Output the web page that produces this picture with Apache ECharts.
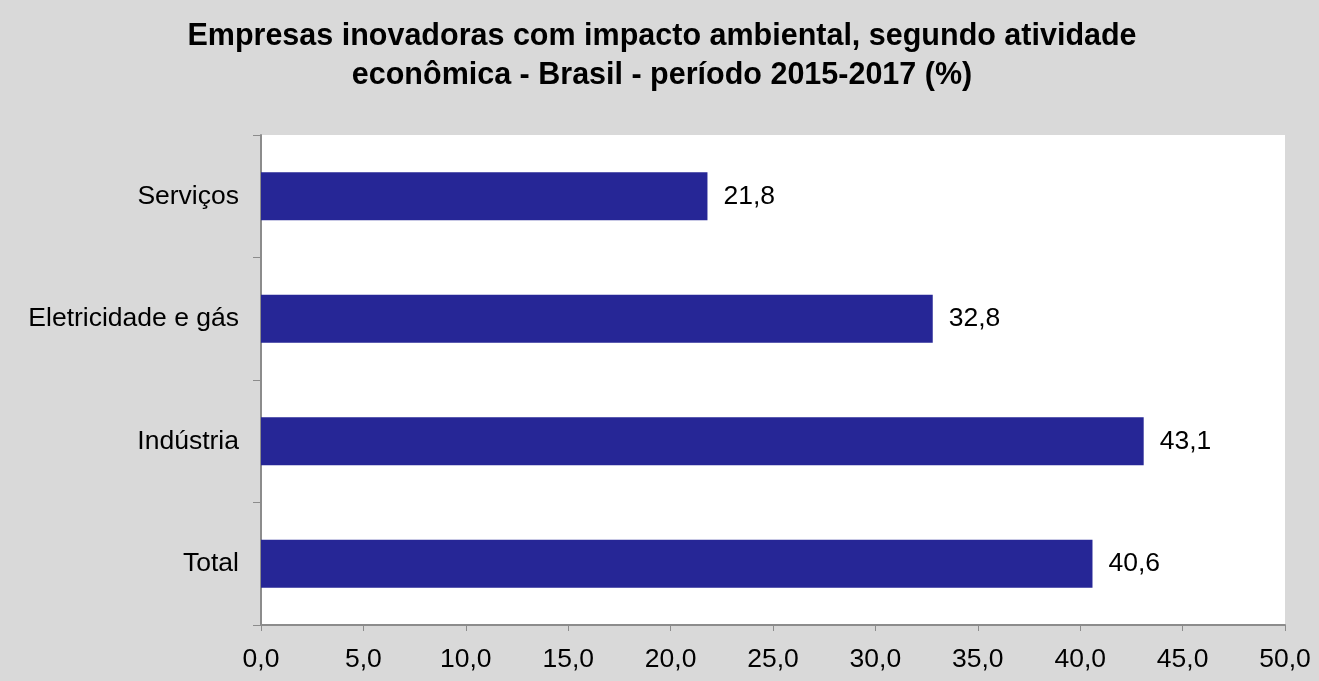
<!DOCTYPE html>
<html><head><meta charset="utf-8">
<script src="https://cdn.jsdelivr.net/npm/echarts@6/dist/echarts.min.js"></script>
<style>html,body{margin:0;padding:0;background:#d9d9d9}#c{width:1319px;height:681px}</style>
</head><body><div id="c"></div>
<script>
const categories = ["Total", "Indústria", "Eletricidade e gás", "Serviços"];
const values = [40.6, 43.1, 32.8, 21.8];
const xTicks = [0, 5, 10, 15, 20, 25, 30, 35, 40, 45, 50];
const titleLines = ["Empresas inovadoras com impacto ambiental, segundo atividade", "econômica - Brasil - período 2015-2017 (%)"];

const FF = 'Liberation Sans, Arial, sans-serif';
const fmt = v => v.toFixed(1).replace('.', ',');
const chart = echarts.init(document.getElementById('c'));
chart.setOption({
  backgroundColor: '#d9d9d9',
  animation: false,
  textStyle: { fontFamily: FF },
  title: {
    text: titleLines.join('\n'),
    left: 657, top: 12, textAlign: 'center',
    textStyle: { fontSize: 30.5, fontWeight: 'bold', color: '#000', lineHeight: 39, fontFamily: FF }
  },
  grid: { left: 261, right: 34, top: 135, bottom: 56, show: true, backgroundColor: '#ffffff', borderWidth: 0 },
  xAxis: {
    type: 'value', min: xTicks[0], max: xTicks[xTicks.length - 1], interval: 5,
    axisLine: { show: true, lineStyle: { color: '#8c8c8c', width: 2 } },
    axisTick: { show: true, length: 6, lineStyle: { color: '#8c8c8c' } },
    splitLine: { show: false },
    axisLabel: { formatter: fmt, fontSize: 26.5, color: '#000', margin: 21, fontFamily: FF }
  },
  yAxis: {
    type: 'category', data: categories,
    axisLine: { show: true, lineStyle: { color: '#8c8c8c', width: 2 } },
    axisTick: { show: true, length: 8, lineStyle: { color: '#8c8c8c' } },
    axisLabel: { fontSize: 26.5, color: '#000', margin: 22, fontFamily: FF }
  },
  series: [{
    type: 'bar', data: values, barWidth: '39%',
    itemStyle: { color: '#262696' },
    label: { show: true, position: 'right', distance: 16, formatter: p => fmt(p.value), fontSize: 26.5, color: '#000', fontFamily: FF }
  }]
});
</script></body></html>
